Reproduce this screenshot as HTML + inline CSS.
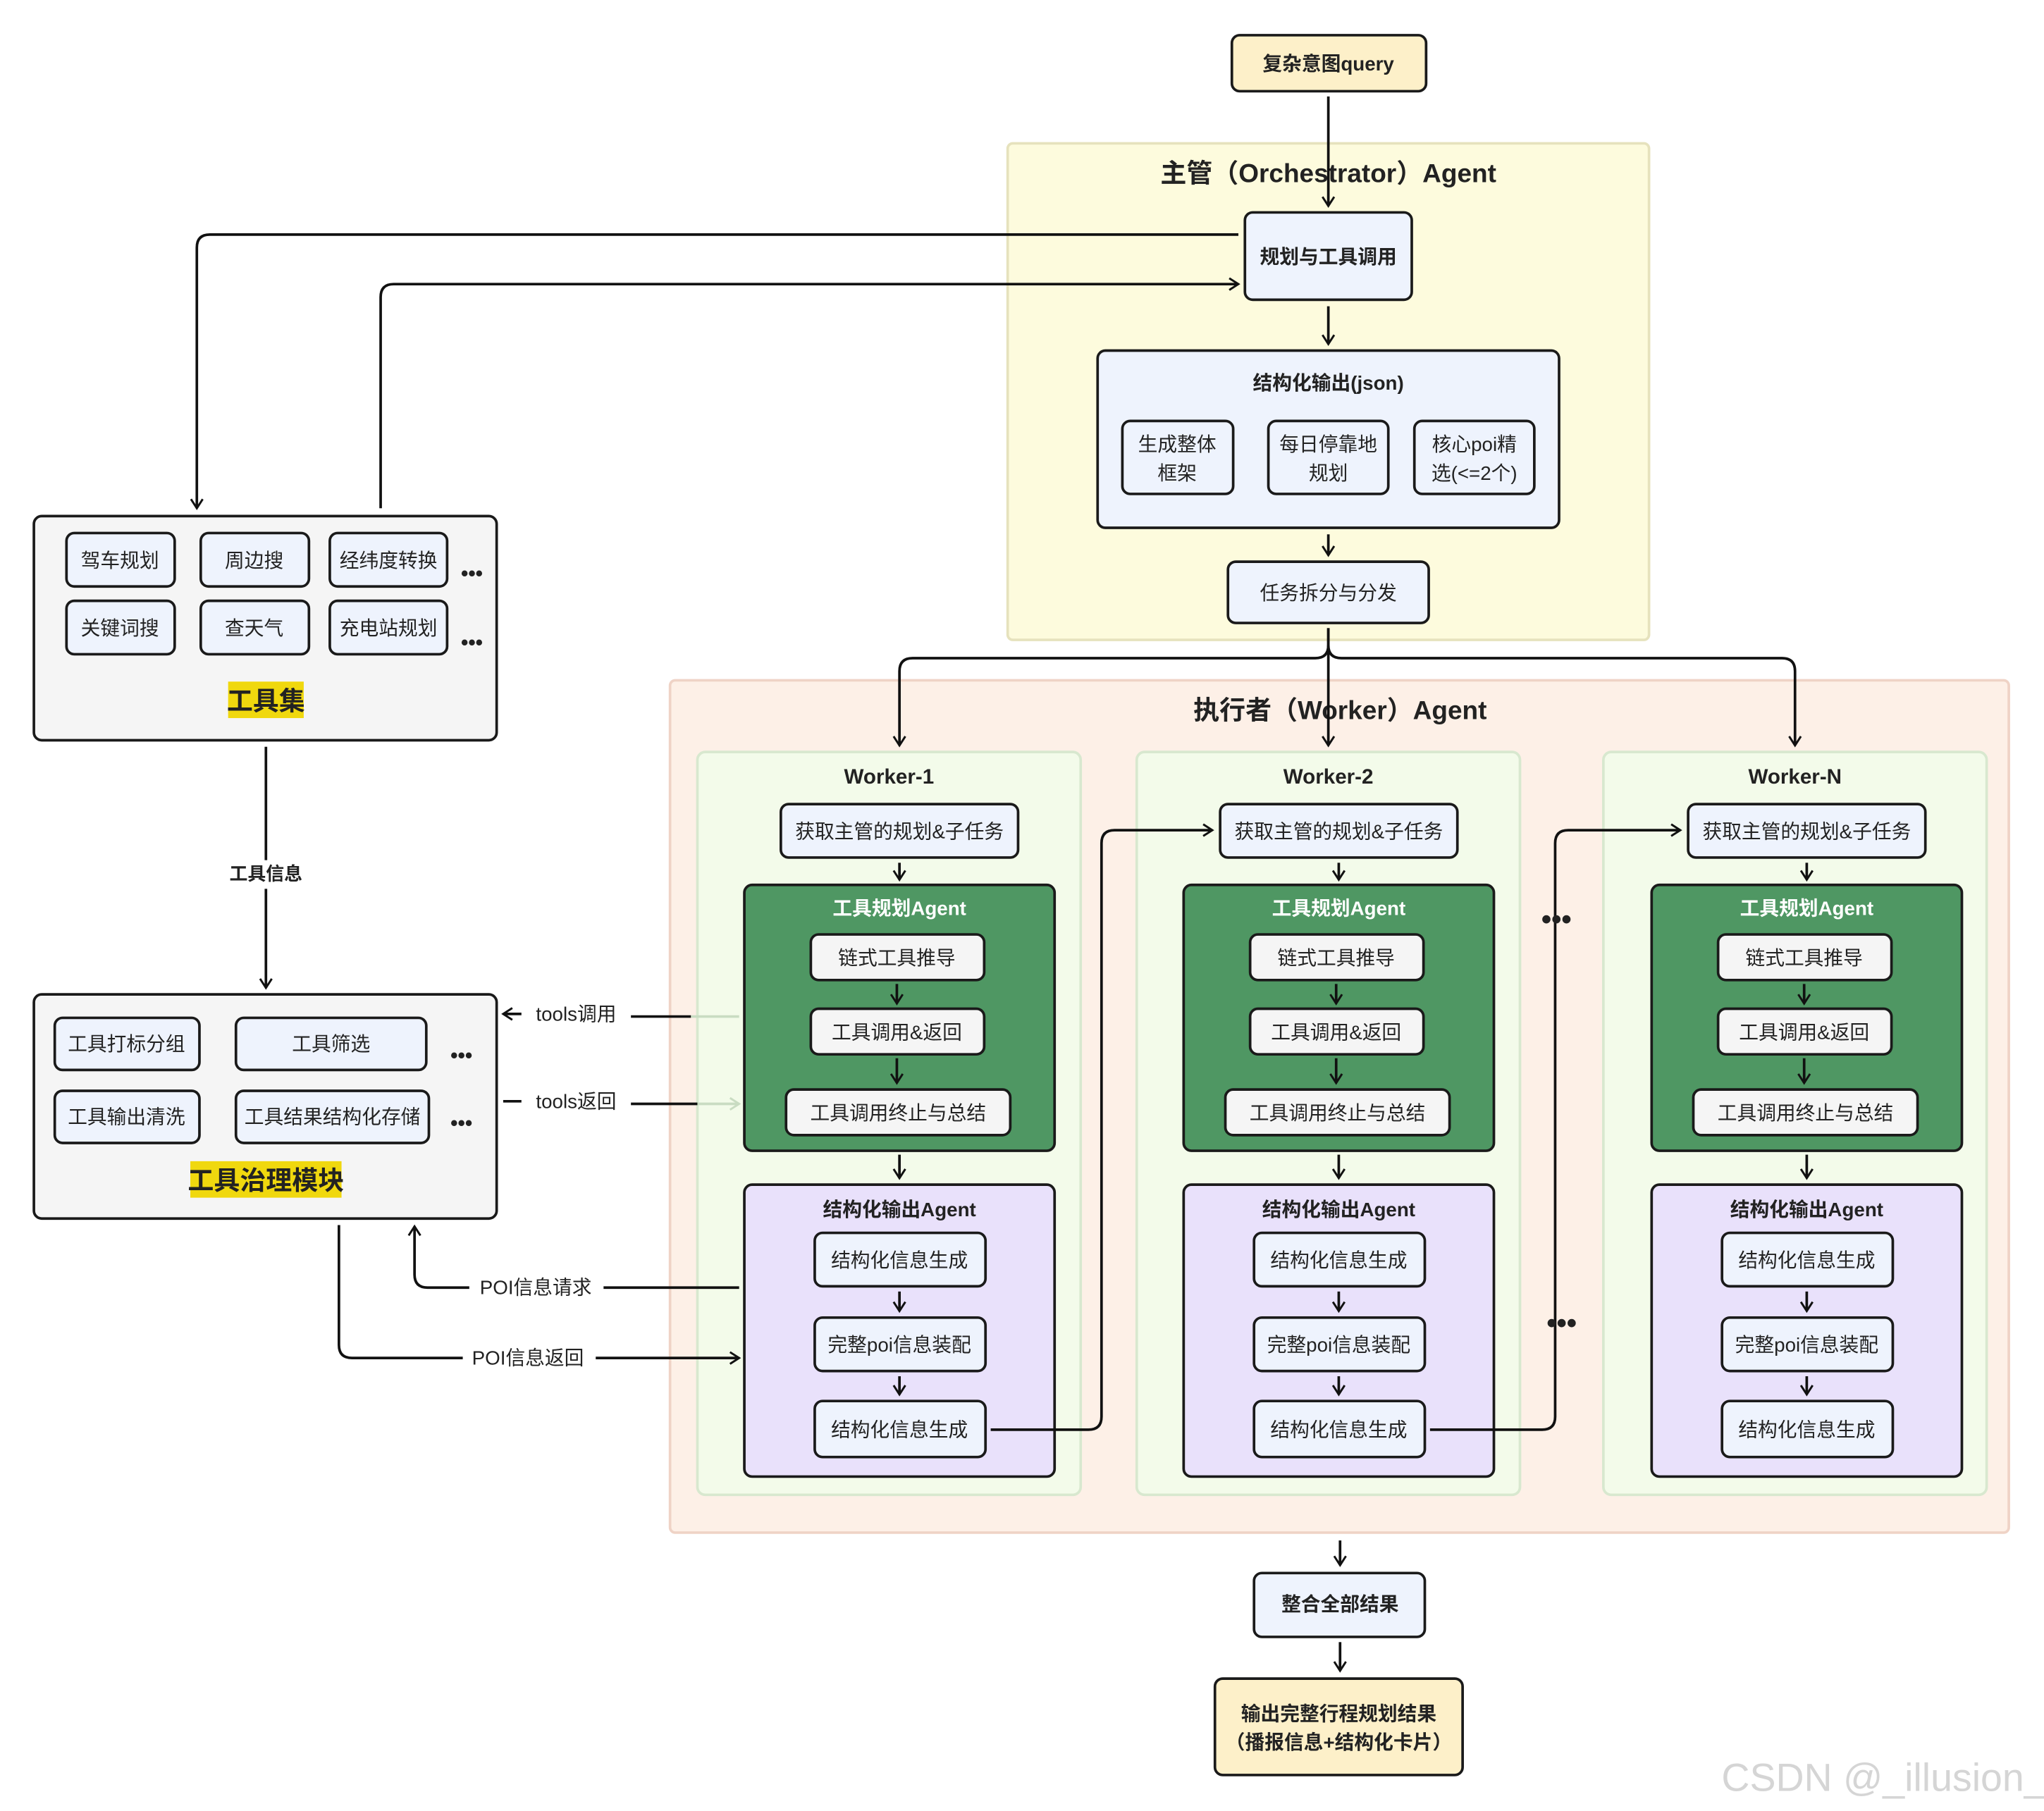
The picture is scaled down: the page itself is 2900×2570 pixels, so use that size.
<!DOCTYPE html>
<html><head><meta charset="utf-8"><style>
html,body{margin:0;padding:0;background:#fff}
svg{display:block}
text{font-family:"Liberation Sans","Noto Sans CJK SC",sans-serif;fill:#222;text-anchor:middle;dominant-baseline:central}
.b{font-weight:bold}
.n{fill:#eef3fd;stroke:#1a1a1a;stroke-width:2}
.g{fill:#f5f5f5;stroke:#1a1a1a;stroke-width:2}
.l{fill:none;stroke:#111;stroke-width:2}
.ll{fill:none;stroke:#c9dcc2;stroke-width:2}
</style></head><body>
<svg width="2900" height="2570" viewBox="0 0 1568 1389.6" preserveAspectRatio="none" xmlns="http://www.w3.org/2000/svg">
<defs>
<marker id="a" viewBox="0 0 12 12" refX="10" refY="6" markerWidth="12" markerHeight="12" orient="auto" markerUnits="userSpaceOnUse"><path d="M3,1.5 L10,6 L3,10.5" fill="none" stroke="#111" stroke-width="1.6"/></marker>
<marker id="al" viewBox="0 0 12 12" refX="10" refY="6" markerWidth="12" markerHeight="12" orient="auto" markerUnits="userSpaceOnUse"><path d="M3,1.5 L10,6 L3,10.5" fill="none" stroke="#c9dcc2" stroke-width="1.6"/></marker>
<g id="w">
  <rect x="599" y="617" width="182" height="41" rx="6" class="n"/>
  <text x="690" y="638" font-size="15">获取主管的规划&amp;子任务</text>
  <line x1="690" y1="662" x2="690" y2="675" class="l" marker-end="url(#a)"/>
  <rect x="571" y="679" width="238" height="204" rx="6" fill="#4f9763" stroke="#1a1a1a" stroke-width="2"/>
  <text x="690" y="697" font-size="15" class="b" style="fill:#fff">工具规划Agent</text>
  <rect x="622" y="717" width="133" height="35" rx="6" class="g"/>
  <text x="688" y="735" font-size="15">链式工具推导</text>
  <line x1="688" y1="755" x2="688" y2="770" class="l" marker-end="url(#a)"/>
  <rect x="622" y="774" width="133" height="35" rx="6" class="g"/>
  <text x="688" y="792" font-size="15">工具调用&amp;返回</text>
  <line x1="688" y1="812" x2="688" y2="831" class="l" marker-end="url(#a)"/>
  <rect x="603" y="836" width="172" height="35" rx="6" class="g"/>
  <text x="689" y="854" font-size="15">工具调用终止与总结</text>
  <line x1="690" y1="886" x2="690" y2="904" class="l" marker-end="url(#a)"/>
  <rect x="571" y="909" width="238" height="224" rx="6" fill="#e9e1fb" stroke="#1a1a1a" stroke-width="2"/>
  <text x="690" y="928" font-size="15" class="b">结构化输出Agent</text>
  <rect x="625" y="946" width="131" height="41" rx="6" class="n"/>
  <text x="690" y="967" font-size="15">结构化信息生成</text>
  <line x1="690" y1="991" x2="690" y2="1006" class="l" marker-end="url(#a)"/>
  <rect x="625" y="1011" width="131" height="41" rx="6" class="n"/>
  <text x="690" y="1032" font-size="15">完整poi信息装配</text>
  <line x1="690" y1="1056" x2="690" y2="1070" class="l" marker-end="url(#a)"/>
  <rect x="625" y="1075" width="131" height="43" rx="6" class="n"/>
  <text x="690" y="1097" font-size="15">结构化信息生成</text>
</g>
</defs>

<rect x="773" y="110" width="492" height="381" rx="4" fill="#fdfbdd" stroke="#e6e2bd" stroke-width="2"/>
<text x="1019" y="133" font-size="20" class="b">主管（Orchestrator）Agent</text>
<rect x="514" y="522" width="1027" height="654" rx="4" fill="#fdf0e7" stroke="#efd3c6" stroke-width="2"/>
<text x="1028" y="545" font-size="20" class="b">执行者（Worker）Agent</text>
<rect x="535" y="577" width="294" height="570" rx="6" fill="#f3fbea" stroke="#d8e8cf" stroke-width="2"/>
<rect x="872" y="577" width="294" height="570" rx="6" fill="#f3fbea" stroke="#d8e8cf" stroke-width="2"/>
<rect x="1230" y="577" width="294" height="570" rx="6" fill="#f3fbea" stroke="#d8e8cf" stroke-width="2"/>
<text x="682" y="596" font-size="16" class="b">Worker-1</text>
<text x="1019" y="596" font-size="16" class="b">Worker-2</text>
<text x="1377" y="596" font-size="16" class="b">Worker-N</text>

<rect x="945" y="27" width="149" height="43" rx="6" fill="#fdf0c9" stroke="#1a1a1a" stroke-width="2"/>
<text x="1019" y="49" font-size="15" class="b">复杂意图query</text>
<line x1="1019" y1="74" x2="1019" y2="158" class="l" marker-end="url(#a)"/>
<rect x="955" y="163" width="128" height="67" rx="6" class="n"/>
<text x="1019" y="197" font-size="15" class="b">规划与工具调用</text>
<line x1="1019" y1="235" x2="1019" y2="264" class="l" marker-end="url(#a)"/>
<rect x="842" y="269" width="354" height="136" rx="6" class="n"/>
<text x="1019" y="294" font-size="15" class="b">结构化输出(json)</text>
<rect x="861" y="323" width="85" height="56" rx="6" class="n"/>
<text x="903" y="341" font-size="15">生成整体</text><text x="903" y="363" font-size="15">框架</text>
<rect x="973" y="323" width="92" height="56" rx="6" class="n"/>
<text x="1019" y="341" font-size="15">每日停靠地</text><text x="1019" y="363" font-size="15">规划</text>
<rect x="1085" y="323" width="92" height="56" rx="6" class="n"/>
<text x="1131" y="341" font-size="15">核心poi精</text><text x="1131" y="363" font-size="15">选(&lt;=2个)</text>
<line x1="1019" y1="410" x2="1019" y2="426" class="l" marker-end="url(#a)"/>
<rect x="942" y="431" width="154" height="47" rx="6" class="n"/>
<text x="1019" y="455" font-size="15">任务拆分与分发</text>
<path d="M1019,482 V495 Q1019,505 1009,505 H700 Q690,505 690,515 V572" class="l" marker-end="url(#a)"/>
<line x1="1019" y1="482" x2="1019" y2="572" class="l" marker-end="url(#a)"/>
<path d="M1019,495 Q1019,505 1029,505 H1367 Q1377,505 1377,515 V572" class="l" marker-end="url(#a)"/>

<use href="#w"/>
<use href="#w" transform="translate(337,0)"/>
<use href="#w" transform="translate(696,0)"/>
<path d="M760,1097 H835 Q845,1097 845,1087 V647 Q845,637 855,637 H930" class="l" marker-end="url(#a)"/>
<path d="M1097,1097 H1183 Q1193,1097 1193,1087 V647 Q1193,637 1203,637 H1289" class="l" marker-end="url(#a)"/>
<text x="1194" y="705" font-size="22" class="b">•••</text>
<text x="1198" y="1015" font-size="22" class="b">•••</text>

<rect x="26" y="396" width="355" height="172" rx="6" class="g"/>
<rect x="51" y="409" width="83" height="41" rx="6" class="n"/><text x="92" y="430" font-size="15">驾车规划</text>
<rect x="154" y="409" width="83" height="41" rx="6" class="n"/><text x="195" y="430" font-size="15">周边搜</text>
<rect x="253" y="409" width="90" height="41" rx="6" class="n"/><text x="298" y="430" font-size="15">经纬度转换</text>
<rect x="51" y="461" width="83" height="41" rx="6" class="n"/><text x="92" y="482" font-size="15">关键词搜</text>
<rect x="154" y="461" width="83" height="41" rx="6" class="n"/><text x="195" y="482" font-size="15">查天气</text>
<rect x="253" y="461" width="90" height="41" rx="6" class="n"/><text x="298" y="482" font-size="15">充电站规划</text>
<text x="362" y="440" font-size="16" class="b">•••</text>
<text x="362" y="493" font-size="16" class="b">•••</text>
<rect x="175" y="523" width="58" height="28" fill="#f0d80e"/>
<text x="204" y="538" font-size="20" class="b">工具集</text>
<path d="M950,180 H161 Q151,180 151,190 V390" class="l" marker-end="url(#a)"/>
<path d="M292,390 V228 Q292,218 302,218 H950" class="l" marker-end="url(#a)"/>
<line x1="204" y1="573" x2="204" y2="758" class="l" marker-end="url(#a)"/>
<rect x="170" y="660" width="68" height="22" fill="#fff"/>
<text x="204" y="671" font-size="14" class="b">工具信息</text>

<rect x="26" y="763" width="355" height="172" rx="6" class="g"/>
<rect x="42" y="781" width="111" height="40" rx="6" class="n"/><text x="97" y="801" font-size="15">工具打标分组</text>
<rect x="181" y="781" width="146" height="40" rx="6" class="n"/><text x="254" y="801" font-size="15">工具筛选</text>
<rect x="42" y="837" width="111" height="40" rx="6" class="n"/><text x="97" y="857" font-size="15">工具输出清洗</text>
<rect x="181" y="837" width="148" height="40" rx="6" class="n"/><text x="255" y="857" font-size="15">工具结果结构化存储</text>
<text x="354" y="810" font-size="16" class="b">•••</text>
<text x="354" y="862" font-size="16" class="b">•••</text>
<rect x="146" y="891" width="116" height="28" fill="#f0d80e"/>
<text x="204" y="906" font-size="20" class="b">工具治理模块</text>

<line x1="567" y1="780" x2="530" y2="780" class="ll"/>
<line x1="530" y1="780" x2="484" y2="780" class="l"/>
<text x="442" y="778" font-size="15">tools调用</text>
<line x1="400" y1="778" x2="386" y2="778" class="l" marker-end="url(#a)"/>
<line x1="386" y1="845" x2="400" y2="845" class="l"/>
<text x="442" y="845" font-size="15">tools返回</text>
<line x1="484" y1="847" x2="535" y2="847" class="l"/>
<line x1="535" y1="847" x2="567" y2="847" class="ll" marker-end="url(#al)"/>
<line x1="567" y1="988" x2="463" y2="988" class="l"/>
<text x="411" y="988" font-size="15">POI信息请求</text>
<path d="M360,988 H328 Q318,988 318,978 V941" class="l" marker-end="url(#a)"/>
<path d="M260,940 V1032 Q260,1042 270,1042 H355" class="l"/>
<text x="405" y="1042" font-size="15">POI信息返回</text>
<line x1="457" y1="1042" x2="567" y2="1042" class="l" marker-end="url(#a)"/>

<line x1="1028" y1="1182" x2="1028" y2="1201" class="l" marker-end="url(#a)"/>
<rect x="962" y="1207" width="131" height="49" rx="6" class="n"/>
<text x="1028" y="1231" font-size="15" class="b">整合全部结果</text>
<line x1="1028" y1="1260" x2="1028" y2="1282" class="l" marker-end="url(#a)"/>
<rect x="932" y="1288" width="190" height="74" rx="6" fill="#fdf0c9" stroke="#1a1a1a" stroke-width="2"/>
<text x="1027" y="1315" font-size="15" class="b">输出完整行程规划结果</text>
<text x="1027" y="1337" font-size="15" class="b">（播报信息+结构化卡片）</text>
<text x="1445" y="1364" font-size="30" style="fill:#d5d5d5">CSDN @_illusion_</text>
</svg>
</body></html>
